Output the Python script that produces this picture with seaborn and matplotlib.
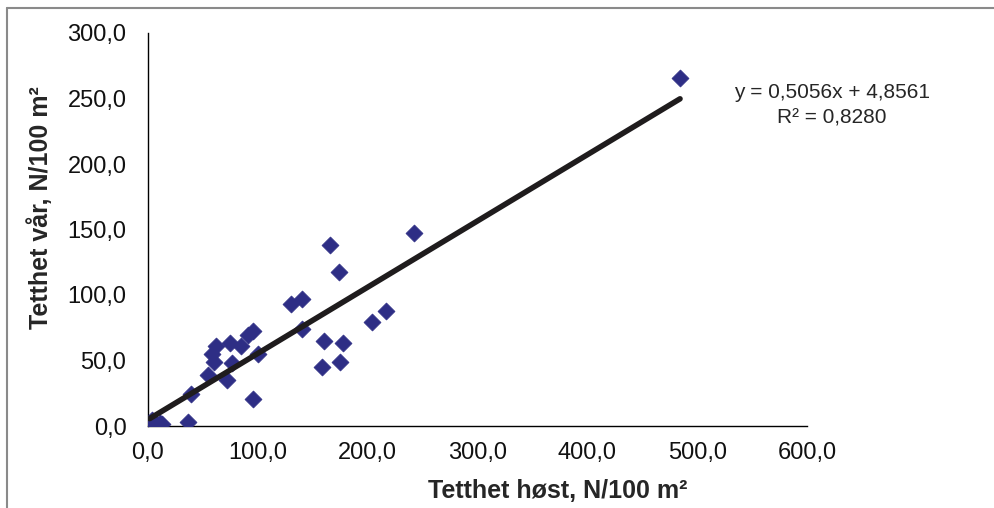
import numpy as np
import pandas as pd
import matplotlib
matplotlib.use("Agg")
import matplotlib.pyplot as plt
from matplotlib.lines import Line2D
import seaborn as sns

# ---- data ----
host = [484.4, 242.5, 165.7, 174.2, 139.9, 129.9, 140.5, 216.7, 204.2, 160.5,
        177.8, 174.8, 158.7, 95.3, 91.3, 84.7, 74.7, 61.9, 58.0, 60.1,
        76.8, 100.5, 54.3, 72.2, 39.2, 95.9, 36.7, 1.5, 4.0, 7.0,
        10.5, 12.5, 3.0]
var = [265.6, 147.6, 138.2, 117.6, 96.9, 92.9, 73.8, 87.8, 79.6, 64.9,
       63.6, 49.1, 45.3, 72.7, 69.5, 61.1, 63.1, 61.1, 55.0, 49.1,
       47.8, 55.0, 38.9, 35.1, 24.4, 20.8, 2.8, 1.0, 4.5, 1.5,
       2.5, 1.5, 0.5]
slope = 0.5056
intercept = 4.8561
r2 = 0.8280
x_ticks = [0, 100, 200, 300, 400, 500, 600]
y_ticks = [0, 50, 100, 150, 200, 250, 300]
x_label = "Tetthet høst, N/100 m²"
y_label = "Tetthet vår, N/100 m²"


def fmt(v):
    return f"{v:.1f}".replace(".", ",")


df = pd.DataFrame({"host": host, "var": var})
xs = np.array([min(host), max(host)])
trend = pd.DataFrame({"x": xs, "y": slope * xs + intercept})

sns.set_theme(style="white")
plt.rcParams["font.family"] = ["Liberation Sans", "DejaVu Sans"]

fig = plt.figure(figsize=(9.94, 5.08), dpi=100)
ax = fig.add_axes([148 / 994, 1 - 426 / 508, (807 - 148) / 994, (426 - 33) / 508])

sns.scatterplot(data=df, x="host", y="var", ax=ax, marker="D", s=75,
                color="#2e2e85", edgecolor="#2e2e85", linewidth=0.5, zorder=3)
sns.lineplot(data=trend, x="x", y="y", ax=ax, color="#1f1c1d", linewidth=4.0, zorder=4)

ax.set_xlim(0, 600)
ax.set_ylim(0, 300)
ax.set_xticks(x_ticks)
ax.set_yticks(y_ticks)
ax.set_xticklabels([fmt(v) for v in x_ticks])
ax.set_yticklabels([fmt(v) for v in y_ticks])
ax.tick_params(axis="both", direction="out", length=4.5, width=0.8, color="#808080",
               labelsize=17, labelcolor="#111111")
ax.tick_params(axis="x", pad=7)
ax.tick_params(axis="y", pad=11)
for side in ["top", "right"]:
    ax.spines[side].set_visible(False)
for side in ["left", "bottom"]:
    ax.spines[side].set_color("#000000")
    ax.spines[side].set_linewidth(1.0)
ax.set_xlabel("")
ax.set_ylabel("")
ax.grid(False)

fig.text(557.5 / 994, 1 - 491 / 508, x_label, ha="center", va="center",
         fontsize=18, fontweight="bold")
fig.text(40 / 994, 1 - 208 / 508, y_label, ha="center", va="center",
         rotation=90, fontsize=18, fontweight="bold")

fig.text(832 / 994, 1 - 93 / 508, f"y = {slope:.4f}x + {intercept:.4f}".replace(".", ","),
         ha="center", va="center", fontsize=15)
fig.text(832 / 994, 1 - 118 / 508, f"R² = {r2:.4f}".replace(".", ","),
         ha="center", va="center", fontsize=15)

# outer frame lines (top and left)
fig.add_artist(Line2D([7 / 994, 7 / 994], [0, 1 - 8 / 508], transform=fig.transFigure,
                      color="#8a8a8a", linewidth=1.5))
fig.add_artist(Line2D([7 / 994, 1], [1 - 8 / 508, 1 - 8 / 508], transform=fig.transFigure,
                      color="#8a8a8a", linewidth=1.5))

fig.savefig("out.png", dpi=100)
